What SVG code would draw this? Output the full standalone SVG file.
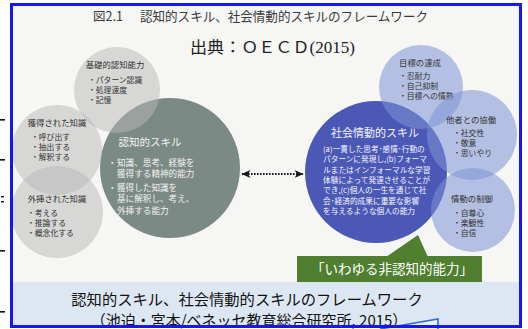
<svg xmlns="http://www.w3.org/2000/svg" width="528" height="329" viewBox="0 0 528 329">
<defs>
<style>
.jp{font-family:"Noto Sans CJK JP","Noto Sans",sans-serif;}
.gs{fill:#b8b8b8;fill-opacity:0.5;}
.bs{fill:#7e93d6;fill-opacity:0.55;}
.gt{font-size:8.4px;fill:#333;}
.it{font-size:7.8px;fill:#333;}
.wt{fill:#f2f2f2;}
.bt{fill:#f4f5ff;}
.dash{fill:#111;}
</style>
<marker id="ah" viewBox="0 0 9 8" refX="8.5" refY="4" markerWidth="9" markerHeight="8" markerUnits="userSpaceOnUse" orient="auto-start-reverse">
<path d="M0,0 L9,4 L0,8 L2.5,4 z" fill="#1a1a1a"/>
</marker>
</defs>

<rect x="0" y="0" width="528" height="329" fill="#ffffff"/>
<rect x="12" y="5" width="508" height="321" fill="#f6f6f4"/>
<rect x="12" y="282" width="508" height="44" fill="#dde7f3"/>

<!-- margin marks -->
<rect class="dash" x="0" y="119" width="5" height="1.6"/>
<rect class="dash" x="0" y="159" width="5" height="1.6"/>
<rect class="dash" x="1" y="196" width="3" height="1.4"/>
<rect class="dash" x="1" y="201" width="3" height="1.4"/>
<rect class="dash" x="0" y="250" width="5" height="1.6"/>
<rect class="dash" x="0" y="311" width="5" height="1.6"/>

<!-- titles -->
<text class="jp" x="93" y="21" font-size="12.5" fill="#3a3a3a">図2.1</text>
<text class="jp" x="140" y="21" font-size="13" fill="#3a3a3a" textLength="288" lengthAdjust="spacingAndGlyphs">認知的スキル、社会情動的スキルのフレームワーク</text>
<text x="190" y="53" font-size="16" fill="#222" font-family="Liberation Serif,Noto Sans CJK JP,serif" textLength="165" lengthAdjust="spacingAndGlyphs">出典：ＯＥＣＤ(2015)</text>

<!-- big circles -->
<g id="cognitive">
<circle cx="170" cy="168" r="70" fill="#7c8a85"/>
<text class="jp wt" x="150" y="146" font-size="10.5" text-anchor="middle">認知的スキル</text>
<g class="jp wt" font-size="8.6">
<text x="108" y="165.5">・</text><text x="117" y="165.5">知識、思考、経験を</text>
<text x="117" y="177">獲得する精神的能力</text>
<text x="108" y="190.5">・</text><text x="117" y="190.5">獲得した知識を</text>
<text x="117" y="202">基に解釈し、考え、</text>
<text x="117" y="213.5">外挿する能力</text>
</g>
</g>

<g id="socio-emotional">
<circle cx="376" cy="172" r="71" fill="#4c58b6"/>
<text class="jp bt" x="375" y="137" font-size="11" text-anchor="middle">社会情動的スキル</text>
<g class="jp bt" font-size="7.7">
<text x="323" y="152">(a)一貫した思考･感情･行動の</text>
<text x="323" y="162.3">パターンに発現し,(b)フォーマ</text>
<text x="323" y="172.6">ルまたはインフォーマルな学習</text>
<text x="323" y="182.9">体験によって発達させることが</text>
<text x="323" y="193.2">でき,(c)個人の一生を通じて社</text>
<text x="323" y="203.5">会･経済的成果に重要な影響</text>
<text x="323" y="213.8">を与えるような個人の能力</text>
</g>
</g>

<!-- small gray circles -->
<g id="basic-cognitive">
<circle class="gs" cx="117" cy="90" r="43"/>
<text class="jp gt" x="115" y="68" text-anchor="middle">基礎的認知能力</text>
<text class="jp it" x="88" y="82.5">・パターン認識</text>
<text class="jp it" x="88" y="92.5">・処理速度</text>
<text class="jp it" x="88" y="102.5">・記憶</text>
</g>
<g id="acquired-knowledge">
<circle class="gs" cx="57" cy="150" r="45"/>
<text class="jp gt" x="57" y="126" text-anchor="middle">獲得された知識</text>
<text class="jp it" x="31" y="140">・呼び出す</text>
<text class="jp it" x="31" y="150">・抽出する</text>
<text class="jp it" x="31" y="160">・解釈する</text>
</g>
<g id="extrapolated-knowledge">
<circle class="gs" cx="57" cy="212" r="46"/>
<text class="jp gt" x="57" y="202" text-anchor="middle">外挿された知識</text>
<text class="jp it" x="27" y="215.5">・考える</text>
<text class="jp it" x="27" y="225.5">・推論する</text>
<text class="jp it" x="27" y="235.5">・概念化する</text>
</g>

<!-- small blue circles -->
<g id="goals">
<circle class="bs" cx="421" cy="87" r="42"/>
<text class="jp gt" x="420" y="66" text-anchor="middle">目標の達成</text>
<text class="jp it" x="399" y="79">・忍耐力</text>
<text class="jp it" x="399" y="89">・自己抑制</text>
<text class="jp it" x="399" y="99">・目標への情熱</text>
</g>
<g id="others">
<circle class="bs" cx="472" cy="135" r="45"/>
<text class="jp gt" x="471" y="123" text-anchor="middle">他者との協働</text>
<text class="jp it" x="453" y="136">・社交性</text>
<text class="jp it" x="453" y="146">・敬意</text>
<text class="jp it" x="453" y="156">・思いやり</text>
</g>
<g id="emotion">
<circle class="bs" cx="473" cy="210" r="42"/>
<text class="jp gt" x="472" y="202" text-anchor="middle">情動の制御</text>
<text class="jp it" x="453" y="215.5">・自尊心</text>
<text class="jp it" x="453" y="225.5">・楽観性</text>
<text class="jp it" x="453" y="235.5">・自信</text>
</g>

<!-- connectors -->
<g id="connectors">
<line x1="242" y1="174" x2="303" y2="174" stroke="#1a1a1a" stroke-width="2" stroke-dasharray="1.6 1.4" marker-start="url(#ah)" marker-end="url(#ah)"/>
<path d="M386,257 L418,235 L428,257 z" fill="#4f7f2f"/>
</g>

<!-- green label -->
<g id="non-cognitive">
<rect x="297" y="256" width="185" height="26" fill="#4f7f2f"/>
<text class="jp" x="392" y="274" font-size="13.5" fill="#ffffff" text-anchor="middle">「いわゆる非認知的能力」</text>
</g>

<!-- caption -->
<text class="jp" x="247" y="305" font-size="15.3" fill="#111" text-anchor="middle">認知的スキル、社会情動的スキルのフレームワーク</text>
<text class="jp" x="249" y="326" font-size="15" fill="#111" text-anchor="middle">（池迫・宮本/ベネッセ教育総合研究所, 2015）</text>

<!-- bottom callout tip -->
<path d="M380,329 L438,319 L438,329 z" fill="#eaf1fa"/>
<path d="M380,329 L438,319 L438,329" fill="none" stroke="#2a6be0" stroke-width="1.6"/>

<!-- frame -->
<rect x="11.5" y="4.5" width="509" height="322" fill="none" stroke="#1616f0" stroke-width="3"/>
</svg>
